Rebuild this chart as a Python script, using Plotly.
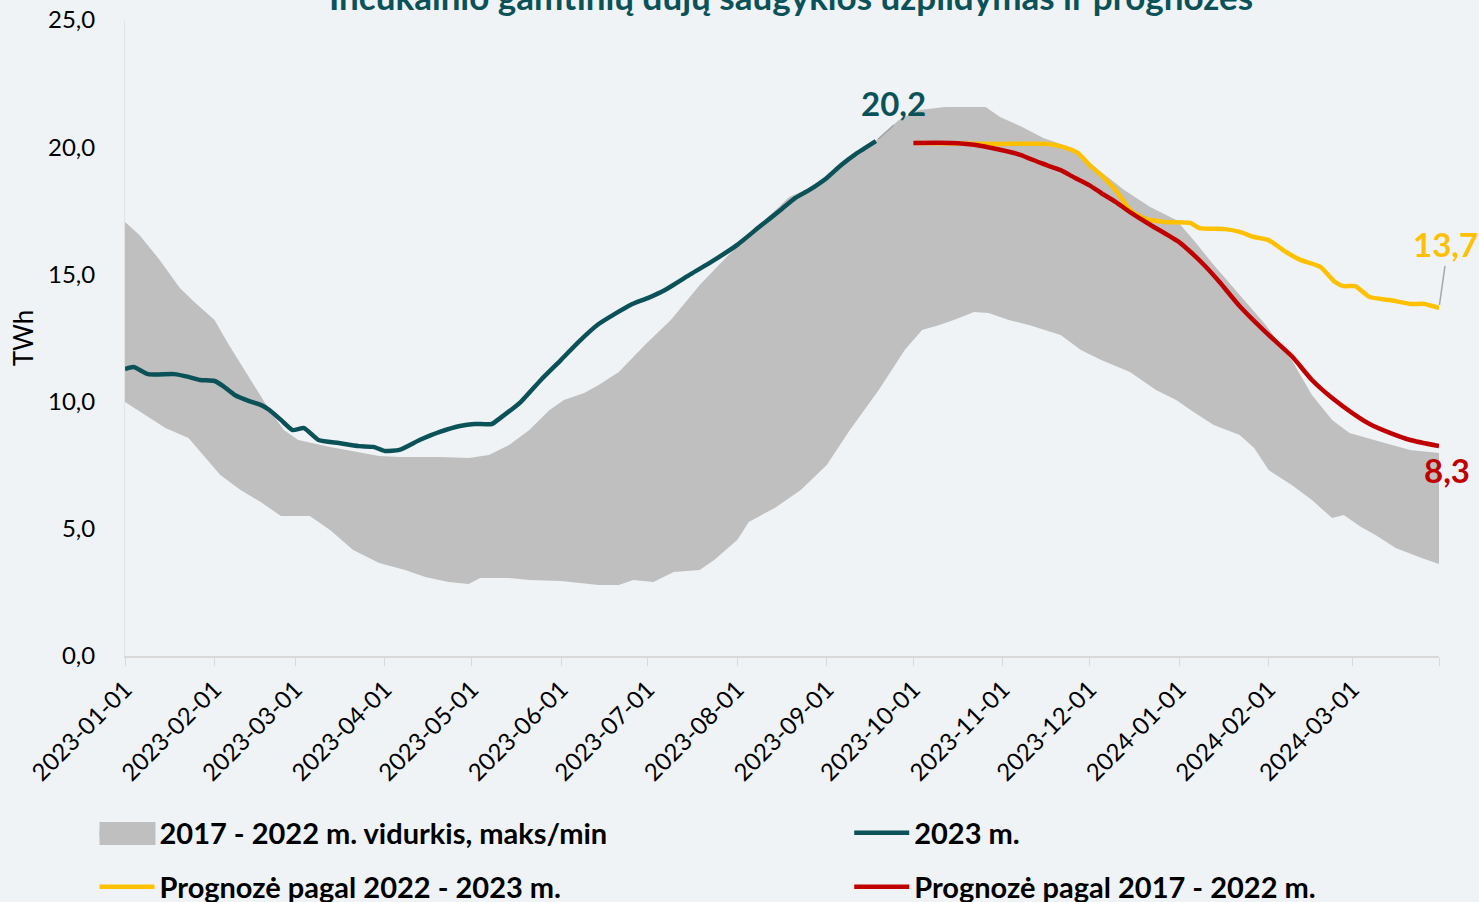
import plotly.graph_objects as go

# ---------------- data ----------------
band_upper_dates = ["2023-01-01","2023-01-06","2023-01-13","2023-01-20","2023-01-25","2023-02-01","2023-02-06",
    "2023-02-13","2023-02-20","2023-02-25","2023-03-02","2023-03-13","2023-03-23","2023-03-30","2023-04-06",
    "2023-04-20","2023-04-30","2023-05-07","2023-05-14","2023-05-21","2023-05-28","2023-06-02","2023-06-09",
    "2023-06-14","2023-06-21","2023-06-30","2023-07-09","2023-07-19","2023-07-29","2023-08-09","2023-08-19",
    "2023-08-26","2023-09-02","2023-09-12","2023-09-19","2023-09-26","2023-10-03","2023-10-12","2023-10-26",
    "2023-10-31","2023-11-07","2023-11-15","2023-11-22","2023-11-28","2023-12-05","2023-12-13","2023-12-22",
    "2023-12-31","2024-01-06","2024-01-13","2024-01-22","2024-01-31","2024-02-09","2024-02-16","2024-02-23",
    "2024-02-29","2024-03-11","2024-03-21","2024-03-31"]
band_upper = [17.06,16.55,15.57,14.47,13.92,13.21,12.22,10.93,9.67,8.88,8.49,8.22,8.02,7.86,7.82,
    7.82,7.78,7.90,8.29,8.88,9.67,10.06,10.34,10.65,11.16,12.22,13.21,14.58,15.76,16.94,18.04,
    18.40,18.90,19.69,20.36,21.07,21.46,21.58,21.58,21.19,20.83,20.36,20.09,19.69,19.03,18.32,17.65,
    17.14,16.35,15.37,14.19,13.01,11.64,10.26,9.28,8.77,8.41,8.10,7.98]

band_lower_dates = ["2023-01-01","2023-01-08","2023-01-15","2023-01-23","2023-01-28","2023-02-03","2023-02-10",
    "2023-02-17","2023-02-24","2023-03-06","2023-03-13","2023-03-21","2023-03-30","2023-04-08","2023-04-15",
    "2023-04-23","2023-04-30","2023-05-04","2023-05-14","2023-05-21","2023-06-01","2023-06-14","2023-06-21",
    "2023-06-26","2023-07-03","2023-07-10","2023-07-19","2023-07-24","2023-08-01","2023-08-05","2023-08-14",
    "2023-08-23","2023-09-01","2023-09-09","2023-09-19","2023-09-28","2023-10-04","2023-10-10","2023-10-15",
    "2023-10-22","2023-10-27","2023-11-03","2023-11-10","2023-11-21","2023-11-28","2023-12-05","2023-12-15",
    "2023-12-24","2023-12-31","2024-01-06","2024-01-13","2024-01-22","2024-01-27","2024-02-01","2024-02-09",
    "2024-02-16","2024-02-23","2024-02-27","2024-03-04","2024-03-09","2024-03-16","2024-03-25","2024-03-31"]
band_lower = [9.98,9.47,8.96,8.57,7.90,7.11,6.53,6.05,5.50,5.50,4.95,4.17,3.66,3.38,3.11,
    2.91,2.83,3.07,3.07,2.99,2.95,2.79,2.79,2.99,2.91,3.30,3.38,3.77,4.56,5.27,5.82,
    6.53,7.51,8.88,10.46,12.03,12.81,13.01,13.21,13.52,13.48,13.21,13.01,12.62,12.03,11.64,11.16,
    10.46,10.06,9.59,9.08,8.69,8.18,7.31,6.72,6.13,5.42,5.54,5.07,4.76,4.25,3.85,3.62]

y2023_dates = ["2023-01-01","2023-01-04","2023-01-09","2023-01-18","2023-01-23","2023-01-27","2023-02-01",
    "2023-02-04","2023-02-08","2023-02-13","2023-02-17","2023-02-20","2023-02-24","2023-02-28","2023-03-04",
    "2023-03-09","2023-03-16","2023-03-23","2023-03-28","2023-04-01","2023-04-06","2023-04-13","2023-04-20",
    "2023-04-27","2023-05-02","2023-05-08","2023-05-11","2023-05-18","2023-05-25","2023-06-01","2023-06-07",
    "2023-06-14","2023-06-25","2023-07-01","2023-07-07","2023-07-16","2023-07-23","2023-08-01","2023-08-09",
    "2023-08-16","2023-08-21","2023-08-26","2023-09-01","2023-09-06","2023-09-11","2023-09-18"]
y2023 = [11.28,11.36,11.08,11.08,10.97,10.85,10.81,10.61,10.26,10.02,9.87,9.67,9.28,8.88,8.96,
    8.49,8.37,8.25,8.22,8.06,8.10,8.49,8.81,9.04,9.12,9.12,9.36,9.98,10.85,11.64,12.34,
    13.05,13.80,14.07,14.39,15.02,15.49,16.16,16.90,17.53,18.00,18.32,18.79,19.30,19.73,20.24]

fc_2223_dates = ["2023-10-01","2023-10-31","2023-11-17","2023-11-22","2023-11-27","2023-12-01","2023-12-05",
    "2023-12-10","2023-12-15","2023-12-20","2023-12-27","2024-01-05","2024-01-08","2024-01-17","2024-01-22",
    "2024-01-27","2024-02-01","2024-02-07","2024-02-12","2024-02-19","2024-02-24","2024-02-27","2024-03-02",
    "2024-03-07","2024-03-14","2024-03-21","2024-03-26","2024-03-31"]
fc_2223 = [20.17,20.13,20.13,20.00,19.77,19.30,18.90,18.32,17.53,17.20,17.06,17.02,16.82,16.78,16.67,
    16.47,16.35,15.88,15.57,15.29,14.70,14.54,14.54,14.11,13.99,13.84,13.84,13.68]

fc_1722_dates = ["2023-10-01","2023-10-14","2023-10-22","2023-10-31","2023-11-07","2023-11-14","2023-11-21",
    "2023-11-26","2023-12-01","2023-12-05","2023-12-10","2023-12-15","2023-12-22","2024-01-01","2024-01-05",
    "2024-01-10","2024-01-15","2024-01-22","2024-02-01","2024-02-09","2024-02-16","2024-02-23","2024-03-01",
    "2024-03-07","2024-03-14","2024-03-21","2024-03-31"]
fc_1722 = [20.17,20.17,20.10,19.90,19.70,19.38,19.10,18.79,18.50,18.20,17.85,17.45,16.95,16.27,15.88,
    15.33,14.70,13.75,12.62,11.79,10.85,10.14,9.55,9.12,8.77,8.49,8.25]

tick_dates = ["2023-01-01","2023-02-01","2023-03-01","2023-04-01","2023-05-01","2023-06-01","2023-07-01",
    "2023-08-01","2023-09-01","2023-10-01","2023-11-01","2023-12-01","2024-01-01","2024-02-01","2024-03-01"]
axis_end = "2024-03-31"

names = ["2017 - 2022 m. vidurkis, maks/min", "2023 m.", "Prognozė pagal 2022 - 2023 m.", "Prognozė pagal 2017 - 2022 m."]
end_labels = ["20,2", "13,7", "8,3"]
title_text = "Inčukalnio gamtinių dujų saugyklos užpildymas ir prognozės"

# ---------------- styles ----------------
BG = "#EFF3F6"
TEAL = "#0B5258"
YELLOW = "#FFC000"
RED = "#C00000"
GRAY = "#BFBFBF"
FONT = "Lato"
W, H = 1479, 902
ML, MR, MT, MB = 124.5, 40, 20, 246
plot_w = W - ML - MR
plot_h = H - MT - MB
LW = 4.5

def px_x(pix):
    return (pix - ML) / plot_w

def px_y(pix):
    return (H - MB - pix) / plot_h

fig = go.Figure()

fig.add_trace(go.Scatter(x=band_lower_dates, y=band_lower, mode="lines", line=dict(width=0, color=GRAY),
                         showlegend=False, hoverinfo="skip"))
fig.add_trace(go.Scatter(x=band_upper_dates, y=band_upper, mode="lines", line=dict(width=0, color=GRAY),
                         fill="tonexty", fillcolor=GRAY, name=names[0], legend="legend"))
fig.add_trace(go.Scatter(x=y2023_dates, y=y2023, mode="lines",
                         line=dict(width=LW, color=TEAL, shape="spline", smoothing=0.5),
                         name=names[1], legend="legend2"))
fig.add_trace(go.Scatter(x=fc_2223_dates, y=fc_2223, mode="lines",
                         line=dict(width=LW, color=YELLOW, shape="spline", smoothing=0.5),
                         name=names[2], legend="legend3"))
fig.add_trace(go.Scatter(x=fc_1722_dates, y=fc_1722, mode="lines",
                         line=dict(width=LW, color=RED, shape="spline", smoothing=0.5),
                         name=names[3], legend="legend4"))

legend_common = dict(orientation="h", xanchor="left", yanchor="middle", bgcolor="rgba(0,0,0,0)",
                     font=dict(family=FONT, size=29, color="black", weight="bold"),
                     itemwidth=55)

fig.update_layout(
    width=W, height=H,
    paper_bgcolor=BG, plot_bgcolor=BG,
    margin=dict(l=ML, r=MR, t=MT, b=MB, autoexpand=False),
    font=dict(family=FONT, size=24, color="black"),
    separators=",.",
    legend=dict(x=px_x(94), y=px_y(833), **legend_common),
    legend2=dict(x=px_x(849), y=px_y(833), **legend_common),
    legend3=dict(x=px_x(94), y=px_y(887), **legend_common),
    legend4=dict(x=px_x(849), y=px_y(887), **legend_common),
)

# taller box behind the band's legend symbol
fig.add_shape(type="rect", xref="paper", yref="paper", layer="above",
              x0=px_x(99), x1=px_x(155), y0=px_y(845), y1=px_y(822),
              fillcolor=GRAY, line=dict(width=0))

fig.update_xaxes(
    type="date", range=["2023-01-01", axis_end],
    tickvals=tick_dates + [axis_end], ticktext=tick_dates + [""], tickangle=-45,
    tickfont=dict(family=FONT, size=24, color="black"),
    showgrid=False, showline=True, linecolor="#D9D9D9", linewidth=1.5,
    ticks="outside", ticklen=8, tickcolor="#D9D9D9", zeroline=False,
)
fig.update_yaxes(
    range=[0, 25], dtick=5, tickformat=".1f",
    tickfont=dict(family=FONT, size=24, color="black"),
    showgrid=False, showline=True, linecolor="#E3E3E3", linewidth=1, zeroline=False,
    ticks="", ticklabelstandoff=24,
    title=dict(text="TWh", font=dict(family=FONT, size=26, color="black"), standoff=6),
)

# end labels
fig.add_annotation(x=y2023_dates[-1], y=y2023[-1], text=end_labels[0], showarrow=True, arrowhead=0, arrowwidth=1.5,
                   arrowcolor="#A6A6A6", ax=18, ay=-16, xanchor="center", yanchor="bottom",
                   font=dict(family=FONT, size=33, color=TEAL, weight="bold"), standoff=3)
fig.add_annotation(x=fc_2223_dates[-1], y=fc_2223[-1], text=end_labels[1], showarrow=True, arrowhead=0, arrowwidth=1.5,
                   arrowcolor="#A6A6A6", ax=6, ay=-42, xanchor="center", yanchor="bottom",
                   font=dict(family=FONT, size=33, color=YELLOW, weight="bold"), standoff=3)
fig.add_annotation(x=fc_1722_dates[-1], y=fc_1722[-1], text=end_labels[2], showarrow=False,
                   xanchor="center", yanchor="middle", xshift=8, yshift=-24,
                   font=dict(family=FONT, size=33, color=RED, weight="bold"))

# title (cut at the top edge as in the original)
fig.add_annotation(xref="paper", yref="paper", x=0.5, y=1, yanchor="middle", yshift=24, xshift=9,
                   showarrow=False, text=title_text,
                   font=dict(family=FONT, size=35, color=TEAL, weight="bold"))

fig.write_html("out.html", config={"displayModeBar": False},
               post_script="document.body.style.margin='0';")
